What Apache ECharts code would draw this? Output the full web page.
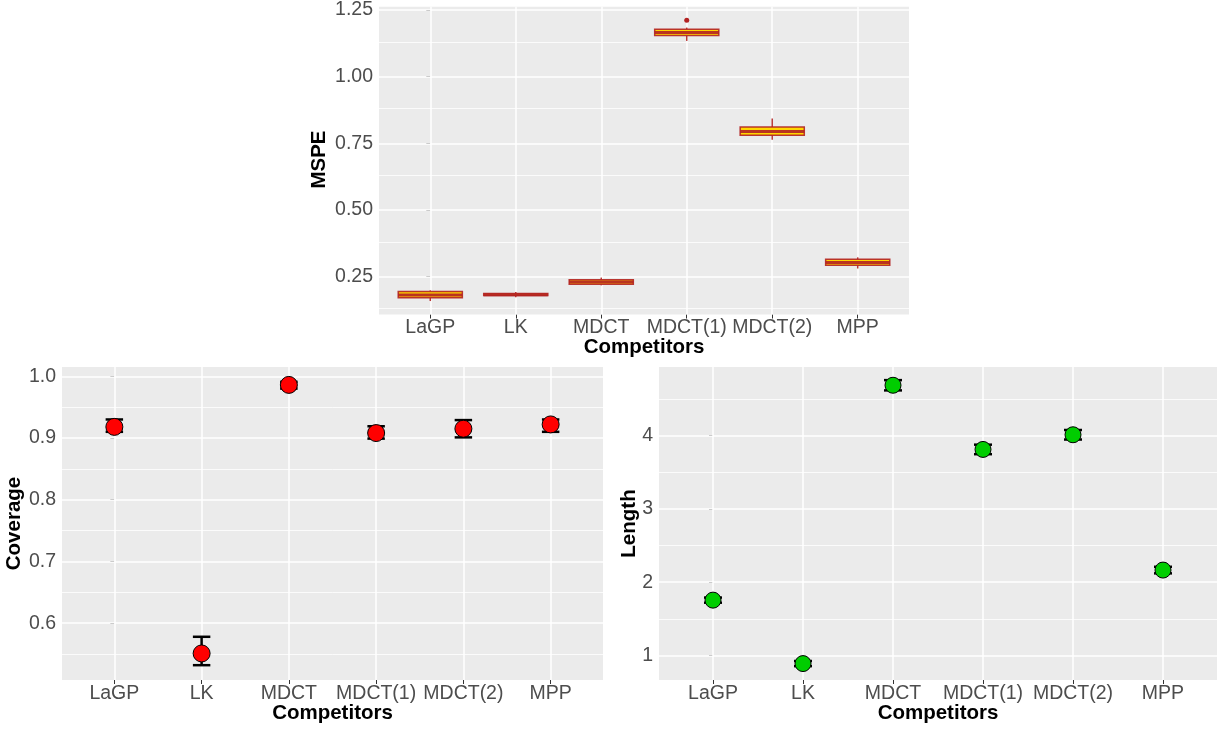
<!DOCTYPE html>
<html>
<head>
<meta charset="utf-8">
<script src="https://cdn.jsdelivr.net/npm/echarts@6/dist/echarts.min.js"></script>
<style>
  html, body { margin: 0; padding: 0; background: #ffffff; }
  #chart { width: 1225px; height: 729px; }
</style>
</head>
<body>
<div id="chart"></div>
<script>
// ---------------- data ----------------
const categories = ['LaGP', 'LK', 'MDCT', 'MDCT(1)', 'MDCT(2)', 'MPP'];

// MSPE box plots (min, Q1, median, Q3, max)
const mspeMin = [0.158, 0.172, 0.217, 1.134, 0.763, 0.280];
const mspeQ1  = [0.170, 0.179, 0.221, 1.154, 0.780, 0.292];
const mspeMed = [0.181, 0.182, 0.229, 1.166, 0.794, 0.303];
const mspeQ3  = [0.194, 0.186, 0.238, 1.178, 0.811, 0.315];
const mspeMax = [0.198, 0.192, 0.246, 1.184, 0.843, 0.322];
const mspeOutlierCat = [3];
const mspeOutlierVal = [1.212];

// Coverage (point, lower, upper)
const coverage     = [0.918, 0.551, 0.986, 0.908, 0.915, 0.922];
const coverageLow  = [0.910, 0.532, 0.980, 0.899, 0.901, 0.910];
const coverageHigh = [0.930, 0.578, 0.991, 0.919, 0.929, 0.930];

// Length (point, lower, upper)
const lengthVal  = [1.755, 0.890, 4.685, 3.810, 4.010, 2.165];
const lengthLow  = [1.720, 0.855, 4.615, 3.745, 3.945, 2.120];
const lengthHigh = [1.790, 0.925, 4.755, 3.875, 4.075, 2.210];

// axis ticks / breaks
const catTicks = [0, 1, 2, 3, 4, 5];
const mspeTicks = [0.25, 0.50, 0.75, 1.00, 1.25];
const mspeMinor = [0.125, 0.375, 0.625, 0.875, 1.125];
const covTicks = [0.6, 0.7, 0.8, 0.9, 1.0];
const covMinor = [0.55, 0.65, 0.75, 0.85, 0.95];
const lenTicks = [1, 2, 3, 4];
const lenMinor = [1.5, 2.5, 3.5, 4.5];

// ---------------- helpers ----------------
const FONT = '"Liberation Sans", Arial, Helvetica, sans-serif';
const TICK_COLOR = '#333333';
const LABEL_COLOR = '#4D4D4D';

function xAxisFor(gridIndex, margin) {
  return {
    type: 'value', gridIndex: gridIndex, min: -0.6, max: 5.6,
    axisLine: { show: false },
    splitLine: { show: false },
    axisTick: { show: true, customValues: catTicks, length: 4, lineStyle: { color: TICK_COLOR, width: 1 } },
    axisLabel: {
      customValues: catTicks, margin: margin, color: LABEL_COLOR, fontSize: 19.5, fontFamily: FONT,
      formatter: function (v) { return categories[Math.round(v)]; }
    }
  };
}
function yAxisFor(gridIndex, min, max, ticks, digits) {
  return {
    type: 'value', gridIndex: gridIndex, min: min, max: max,
    axisLine: { show: false },
    splitLine: { show: false },
    axisTick: { show: true, customValues: ticks, length: 4, lineStyle: { color: TICK_COLOR, width: 1 } },
    axisLabel: {
      customValues: ticks, margin: 6, color: LABEL_COLOR, fontSize: 19.5, fontFamily: FONT,
      formatter: function (v) { return digits === 0 ? String(Math.round(v)) : v.toFixed(digits); }
    }
  };
}
function gridLines(gridIndex, majorY, minorY) {
  const data = [];
  catTicks.forEach(function (c) { data.push({ xAxis: c, lineStyle: { color: '#FFFFFF', width: 1.5, type: 'solid' } }); });
  majorY.forEach(function (v) { data.push({ yAxis: v, lineStyle: { color: '#FFFFFF', width: 1.5, type: 'solid' } }); });
  minorY.forEach(function (v) { data.push({ yAxis: v, lineStyle: { color: '#FFFFFF', width: 0.8, type: 'solid' } }); });
  return {
    type: 'scatter', xAxisIndex: gridIndex, yAxisIndex: gridIndex, data: [], silent: true, z: 1,
    markLine: {
      silent: true, z: 1, symbol: ['none', 'none'], animation: false,
      label: { show: false }, emphasis: { disabled: true },
      data: data
    }
  };
}
function errorBarSeries(gridIndex, low, high) {
  return {
    type: 'custom', xAxisIndex: gridIndex, yAxisIndex: gridIndex, z: 3, silent: true,
    data: categories.map(function (c, i) { return [i, low[i], high[i]]; }),
    renderItem: function (params, api) {
      const x = api.value(0);
      const pLow = api.coord([x, api.value(1)]);
      const pHigh = api.coord([x, api.value(2)]);
      const hw = api.size([0.2, 0])[0] / 2;
      const st = { stroke: '#000000', lineWidth: 2.5, fill: null };
      return {
        type: 'group',
        children: [
          { type: 'line', shape: { x1: pLow[0], y1: pLow[1], x2: pHigh[0], y2: pHigh[1] }, style: st },
          { type: 'line', shape: { x1: pLow[0] - hw, y1: pLow[1], x2: pLow[0] + hw, y2: pLow[1] }, style: st },
          { type: 'line', shape: { x1: pHigh[0] - hw, y1: pHigh[1], x2: pHigh[0] + hw, y2: pHigh[1] }, style: st }
        ]
      };
    }
  };
}
function pointSeries(gridIndex, vals, color, size) {
  return {
    type: 'scatter', xAxisIndex: gridIndex, yAxisIndex: gridIndex, z: 4, silent: true,
    symbol: 'circle', symbolSize: size,
    itemStyle: { color: color, borderColor: '#000000', borderWidth: 1, opacity: 1 },
    data: vals.map(function (v, i) { return [i, v]; })
  };
}
function titleText(text, x, y, rotate) {
  return {
    type: 'text', x: x, y: y, rotation: rotate ? Math.PI / 2 : 0, silent: true,
    style: { text: text, font: 'bold 20.5px ' + FONT, fill: '#000000', align: 'center', verticalAlign: 'middle' }
  };
}

const boxStroke = 'rgba(178,34,34,0.9)';

const option = {
  animation: false,
  backgroundColor: '#FFFFFF',
  grid: [
    { left: 379, top: 2.5, width: 530, height: 312, show: true, backgroundColor: '#EBEBEB', borderWidth: 0 },
    { left: 62, top: 367, width: 541, height: 313, show: true, backgroundColor: '#EBEBEB', borderWidth: 0 },
    { left: 659, top: 367, width: 558, height: 313, show: true, backgroundColor: '#EBEBEB', borderWidth: 0 }
  ],
  xAxis: [xAxisFor(0, 3), xAxisFor(1, 4), xAxisFor(2, 4)],
  yAxis: [
    yAxisFor(0, 0.1075, 1.2625, mspeTicks, 2),
    yAxisFor(1, 0.508, 1.015, covTicks, 1),
    yAxisFor(2, 0.666, 4.934, lenTicks, 0)
  ],
  graphic: [
    titleText('MSPE', 319, 159.5, true),
    titleText('Competitors', 644, 347.5, false),
    titleText('Coverage', 14.5, 523.5, true),
    titleText('Competitors', 332.5, 713, false),
    titleText('Length', 629, 523.5, true),
    titleText('Competitors', 938, 713, false)
  ],
  series: [
    gridLines(0, mspeTicks, mspeMinor),
    gridLines(1, covTicks, covMinor),
    gridLines(2, lenTicks, lenMinor),
    {
      type: 'custom', xAxisIndex: 0, yAxisIndex: 0, z: 3, silent: true,
      data: categories.map(function (c, i) { return [i, mspeMin[i], mspeQ1[i], mspeMed[i], mspeQ3[i], mspeMax[i]]; }),
      renderItem: function (params, api) {
        const x = api.value(0);
        const pMin = api.coord([x, api.value(1)]);
        const pQ1 = api.coord([x, api.value(2)]);
        const pMed = api.coord([x, api.value(3)]);
        const pQ3 = api.coord([x, api.value(4)]);
        const pMax = api.coord([x, api.value(5)]);
        const hw = api.size([0.75, 0])[0] / 2;
        const lineSt = { stroke: boxStroke, lineWidth: 1.5, fill: null };
        return {
          type: 'group',
          children: [
            { type: 'line', shape: { x1: pQ3[0], y1: pQ3[1], x2: pMax[0], y2: pMax[1] }, style: lineSt },
            { type: 'line', shape: { x1: pQ1[0], y1: pQ1[1], x2: pMin[0], y2: pMin[1] }, style: lineSt },
            { type: 'rect', shape: { x: pQ3[0] - hw, y: pQ3[1], width: 2 * hw, height: pQ1[1] - pQ3[1] },
              style: { fill: '#FFD700', stroke: boxStroke, lineWidth: 1.5 } },
            { type: 'line', shape: { x1: pMed[0] - hw, y1: pMed[1], x2: pMed[0] + hw, y2: pMed[1] },
              style: { stroke: boxStroke, lineWidth: 3 } }
          ]
        };
      }
    },
    {
      type: 'scatter', xAxisIndex: 0, yAxisIndex: 0, z: 4, silent: true,
      symbol: 'circle', symbolSize: 5,
      itemStyle: { color: '#B22222', opacity: 1 },
      data: mspeOutlierCat.map(function (c, i) { return [c, mspeOutlierVal[i]]; })
    },
    errorBarSeries(1, coverageLow, coverageHigh),
    pointSeries(1, coverage, '#FF0000', 17),
    errorBarSeries(2, lengthLow, lengthHigh),
    pointSeries(2, lengthVal, '#00CD00', 16)
  ]
};

const chart = echarts.init(document.getElementById('chart'), null, { renderer: 'canvas' });
chart.setOption(option);
</script>
</body>
</html>
